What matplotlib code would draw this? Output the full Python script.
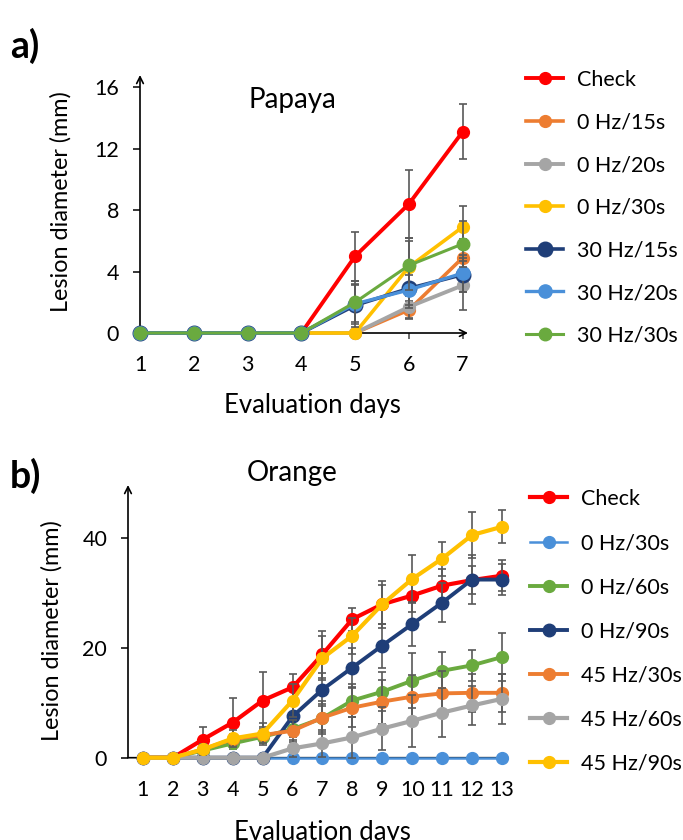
import numpy as np
import matplotlib.pyplot as plt

plt.rcParams['font.family'] = ['Lato', 'DejaVu Sans']

# ---- data: papaya (panel a) ----
pap_days = np.array([1, 2, 3, 4, 5, 6, 7])
pap_labels = ["Check", "0 Hz/15s", "0 Hz/20s", "0 Hz/30s", "30 Hz/15s", "30 Hz/20s", "30 Hz/30s"]
pap_colors = ["#FF0000", "#ED7D31", "#A5A5A5", "#FFC000", "#1F3E78", "#4A90D9", "#6AAA3F"]
pap_check = [0, 0, 0, 0, 5.0, 8.4, 13.1]
pap_0hz15 = [0, 0, 0, 0, 0, 1.5, 4.9]
pap_0hz20 = [0, 0, 0, 0, 0, 1.7, 3.1]
pap_0hz30 = [0, 0, 0, 0, 0, 4.3, 6.9]
pap_30hz15 = [0, 0, 0, 0, 1.8, 2.9, 3.8]
pap_30hz20 = [0, 0, 0, 0, 1.9, 2.8, 3.9]
pap_30hz30 = [0, 0, 0, 0, 2.0, 4.4, 5.8]
pap_err_check = [0, 0, 0, 0, 1.6, 2.2, 1.8]
pap_err_0hz15 = [0, 0, 0, 0, 0, 0.6, 1.2]
pap_err_0hz20 = [0, 0, 0, 0, 0, 0.7, 1.6]
pap_err_0hz30 = [0, 0, 0, 0, 0, 1.9, 1.4]
pap_err_30hz15 = [0, 0, 0, 0, 1.4, 1.3, 1.1]
pap_err_30hz20 = [0, 0, 0, 0, 1.2, 1.0, 1.2]
pap_err_30hz30 = [0, 0, 0, 0, 1.4, 1.6, 1.5]

# ---- data: orange (panel b) ----
ora_days = np.arange(1, 14)
ora_labels = ["Check", "0 Hz/30s", "0 Hz/60s", "0 Hz/90s", "45 Hz/30s", "45 Hz/60s", "45 Hz/90s"]
ora_colors = ["#FF0000", "#4A90D9", "#6AAA3F", "#1F3E78", "#ED7D31", "#A5A5A5", "#FFC000"]
ora_check = [0, 0, 3.3, 6.4, 10.4, 12.8, 18.8, 25.2, 27.9, 29.5, 31.3, 32.3, 33.1]
ora_0hz30 = [0] * 13
ora_0hz60 = [0, 0, 1.3, 2.6, 3.8, 5.2, 7.2, 10.4, 12.0, 14.0, 15.8, 16.8, 18.3]
ora_0hz90 = [0, 0, 0, 0, 0, 7.5, 12.4, 16.4, 20.4, 24.3, 28.2, 32.4, 32.4]
ora_45hz30 = [0, 0, 1.5, 3.4, 4.1, 4.9, 7.3, 9.1, 10.2, 11.1, 11.7, 11.8, 11.8]
ora_45hz60 = [0, 0, 0, 0, 0, 1.7, 2.6, 3.7, 5.3, 6.7, 8.2, 9.5, 10.7]
ora_45hz90 = [0, 0, 1.5, 3.5, 4.4, 10.4, 18.1, 22.2, 27.9, 32.5, 36.2, 40.5, 42.0]
ora_err_check = [0, 0, 2.3, 4.4, 5.2, 2.5, 4.3, 2.1, 3.5, 3.0, 3.0, 2.5, 2.8]
ora_err_0hz30 = [0] * 13
ora_err_0hz60 = [0, 0, 0.8, 1.0, 1.2, 1.5, 2.5, 3.0, 3.5, 5.0, 3.5, 2.8, 4.4]
ora_err_0hz90 = [0, 0, 0, 0, 0, 2.5, 3.0, 3.5, 4.0, 4.0, 3.5, 4.4, 2.8]
ora_err_45hz30 = [0, 0, 0.8, 1.0, 1.5, 2.0, 3.0, 3.5, 4.0, 4.0, 4.0, 3.5, 3.5]
ora_err_45hz60 = [0, 0, 0, 0, 0, 1.5, 2.5, 3.7, 3.9, 4.7, 4.4, 3.6, 4.6]
ora_err_45hz90 = [0, 0, 1.0, 1.5, 2.0, 3.0, 4.0, 3.3, 4.3, 4.4, 3.1, 4.2, 3.0]

pap_series = [pap_check, pap_0hz15, pap_0hz20, pap_0hz30, pap_30hz15, pap_30hz20, pap_30hz30]
pap_errors = [pap_err_check, pap_err_0hz15, pap_err_0hz20, pap_err_0hz30,
              pap_err_30hz15, pap_err_30hz20, pap_err_30hz30]
ora_series = [ora_check, ora_0hz30, ora_0hz60, ora_0hz90, ora_45hz30, ora_45hz60, ora_45hz90]
ora_errors = [ora_err_check, ora_err_0hz30, ora_err_0hz60, ora_err_0hz90,
              ora_err_45hz30, ora_err_45hz60, ora_err_45hz90]

W, H = 683, 840
fig = plt.figure(figsize=(W / 100, H / 100), dpi=100)

# axes placed from pixel measurements of the reference
ax_a = fig.add_axes([140 / W, 1 - 333 / H, 328 / W, 258 / H])
ax_b = fig.add_axes([128 / W, 1 - 757.7 / H, 382 / W, 272.7 / H])


def draw_panel(ax, days, series, errors, colors, labels, lws, msizes):
    for i, (vals, err) in enumerate(zip(series, errors)):
        vals = np.asarray(vals, float)
        err = np.asarray(err, float)
        m = err > 0
        if m.any():
            ax.errorbar(days[m], vals[m], yerr=err[m], fmt='none', ecolor='#595959',
                        elinewidth=1.2, capsize=3, capthick=1.2, zorder=3 + i, clip_on=False)
        ax.plot(days, vals, color=colors[i], lw=lws[i], marker='o', ms=msizes[i],
                mec=colors[i], clip_on=False, zorder=3.5 + i, label=labels[i])


def style_axes(ax, xmin, xmax, ymax, yticks, days, xarrow_style):
    ax.set_xlim(xmin, xmax)
    ax.set_ylim(0, ymax)
    for s in ax.spines.values():
        s.set_visible(False)
    ax.set_xticks(days)
    ax.set_yticks(yticks)
    ax.tick_params(axis='x', length=4, width=1.1, pad=12, labelsize=15.5, color='#404040')
    ax.tick_params(axis='y', length=5, width=1.1, pad=10, labelsize=15.5)
    ax.annotate('', xy=(1, 0), xytext=(0, 0), xycoords='axes fraction',
                arrowprops=dict(arrowstyle=xarrow_style, lw=1.2, color='black',
                                shrinkA=0, shrinkB=0, mutation_scale=12), zorder=2)
    ax.annotate('', xy=(0, 1), xytext=(0, 0), xycoords='axes fraction',
                arrowprops=dict(arrowstyle='->', lw=1.2, color='black',
                                shrinkA=0, shrinkB=0, mutation_scale=12), zorder=2)
    ax.patch.set_visible(False)


# ---- panel a ----
draw_panel(ax_a, pap_days, pap_series, pap_errors, pap_colors, pap_labels,
           lws=[2.8, 2.6, 2.8, 2.6, 2.6, 2.4, 2.2], msizes=[8.5, 8.5, 8.5, 8.5, 10.5, 9.5, 9])
style_axes(ax_a, 1, 7.1, 16.8, [0, 4, 8, 12, 16], pap_days, '->')
ax_a.set_ylabel("Lesion diameter (mm)", fontsize=16.8)
ax_a.yaxis.set_label_coords(-0.21, 0.508)
ax_a.set_xlabel("Evaluation days", fontsize=18.5, va='top')
ax_a.xaxis.set_label_coords(0.527, -0.232)
ax_a.text(0.466, 0.955, "Papaya", transform=ax_a.transAxes, ha='center', va='top', fontsize=20)
ax_a.legend(loc='upper left', bbox_to_anchor=(526 / W, 1 - 70 / H),
            bbox_transform=fig.transFigure, frameon=False, fontsize=15.5,
            labelspacing=1.05, handlelength=1.72, handletextpad=0.65,
            borderpad=0, borderaxespad=0)

# ---- panel b ----
draw_panel(ax_b, ora_days, ora_series, ora_errors, ora_colors, ora_labels,
           lws=[3.0, 1.8, 2.8, 2.8, 2.8, 3.0, 3.0], msizes=[8.5, 8.5, 8.5, 9, 8.5, 8.5, 8.5])
style_axes(ax_b, 0.5, 13.27, 49.6, [0, 20, 40], ora_days, '-|>')
ax_b.set_ylabel("Lesion diameter (mm)", fontsize=16.8)
ax_b.yaxis.set_label_coords(-0.17, 0.465)
ax_b.set_xlabel("Evaluation days", fontsize=18.5, va='top')
ax_b.xaxis.set_label_coords(0.508, -0.228)
ax_b.text(0.429, 1.09, "Orange", transform=ax_b.transAxes, ha='center', va='top', fontsize=20)
ax_b.legend(loc='upper left', bbox_to_anchor=(530 / W, 1 - 489 / H),
            bbox_transform=fig.transFigure, frameon=False, fontsize=15.5,
            labelspacing=1.12, handlelength=1.72, handletextpad=0.65,
            borderpad=0, borderaxespad=0)

fig.text(10 / W, 1 - 58 / H, "a)", fontsize=27, fontweight='bold')
fig.text(10 / W, 1 - 488 / H, "b)", fontsize=27, fontweight='bold')

fig.savefig("out.png", dpi=100)
